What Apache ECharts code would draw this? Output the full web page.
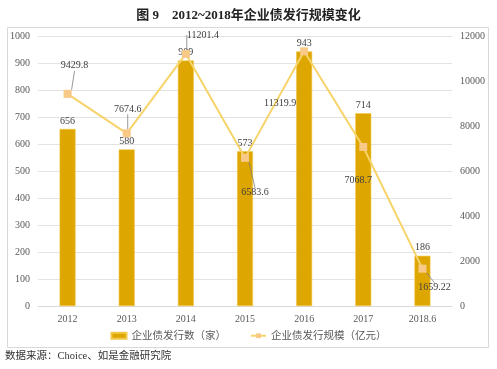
<!DOCTYPE html>
<html><head><meta charset="utf-8">
<script src="https://cdn.jsdelivr.net/npm/echarts@6/dist/echarts.min.js"></script>
<style>html,body{margin:0;padding:0;background:#fff}#c{width:497px;height:369px}</style>
</head><body><div id="c"></div>
<script>
const categories = ['2012','2013','2014','2015','2016','2017','2018.6'];
const issueCount = [656, 580, 909, 573, 943, 714, 186];
const issueScale = [9429.8, 7674.6, 11201.4, 6583.6, 11319.9, 7068.7, 1659.22];
const leftTicks = [0, 1000, 100];
const rightTicks = [0, 12000, 2000];
const seriesNames = ['企业债发行数（家）', '企业债发行规模（亿元）'];
// label offsets (dx, dy) relative to point, and whether to show guide line
const scaleLabelOffsets = [[7,-28,true],[1,-24,true],[17,-19,true],[10,35,true],[-24,52,false],[-5,33,false],[12,19,true]];

const FONT = "'Liberation Serif','DejaVu Serif','Noto Sans CJK SC',serif";
const chart = echarts.init(document.getElementById('c'), null, {renderer:'canvas'});
chart.setOption({
  animation:false,
  backgroundColor:'#fff',
  textStyle:{fontFamily:FONT},
  title:{text:'图 9    2012~2018年企业债发行规模变化', left:'center', top:4,
    textStyle:{fontFamily:FONT, fontSize:13, fontWeight:'bold', color:'#222'}},
  graphic:[
    {type:'rect', shape:{x:7.5,y:27.5,width:481,height:320}, style:{fill:'none', stroke:'#d9d9d9', lineWidth:1}, silent:true},
    {type:'text', left:5, top:351, style:{text:'数据来源：Choice、如是金融研究院', font:"10.5px 'Liberation Serif','Noto Sans CJK SC',serif", fill:'#333'}}
  ],
  grid:{left:38, right:45, top:36, bottom:63, containLabel:false},
  legend:{bottom:23, left:'center', itemWidth:15, itemHeight:6, itemGap:24,
    textStyle:{fontFamily:FONT, fontSize:10.5, color:'#595959'},
    data:[{name:seriesNames[0], icon:'rect'}, {name:seriesNames[1]}]},
  xAxis:{type:'category', data:categories,
    axisLine:{lineStyle:{color:'#d9d9d9'}}, axisTick:{show:false},
    axisLabel:{color:'#595959', fontSize:10, fontFamily:FONT, margin:8}},
  yAxis:[
    {type:'value', min:leftTicks[0], max:leftTicks[1], interval:leftTicks[2],
      axisLine:{show:false}, axisTick:{show:false},
      axisLabel:{color:'#595959', fontSize:10, fontFamily:FONT, margin:8, formatter:v=>String(v)},
      splitLine:{lineStyle:{color:'#e3e3e3'}}},
    {type:'value', min:rightTicks[0], max:rightTicks[1], interval:rightTicks[2],
      axisLine:{show:false}, axisTick:{show:false},
      axisLabel:{color:'#595959', fontSize:10, fontFamily:FONT, margin:8, formatter:v=>String(v)},
      splitLine:{show:false}}
  ],
  series:[
    {name:seriesNames[0], type:'bar', data:issueCount, barWidth:16, yAxisIndex:0,
      itemStyle:{color:'#DEA600', borderColor:'#F2C84B', borderWidth:0.6},
      label:{show:true, position:'top', distance:3, color:'#404040', fontSize:10, fontFamily:FONT}},
    {name:seriesNames[1], type:'line', data:issueScale.map((v,i)=>({value:v, labelLine:{show:scaleLabelOffsets[i][2]}})), yAxisIndex:1,
      lineStyle:{color:'#F7D46A', width:2}, itemStyle:{color:'#F8C987'},
      symbol:'rect', symbolSize:8, z:5,
      label:{show:true, position:'inside', color:'#404040', fontSize:10, fontFamily:FONT},
      labelLine:{show:true, lineStyle:{color:'#7f7f7f', width:0.8}},
      labelLayout:function(p){const o=scaleLabelOffsets[p.dataIndex]; return {dx:o[0], dy:o[1]};}}
  ]
});
</script></body></html>
